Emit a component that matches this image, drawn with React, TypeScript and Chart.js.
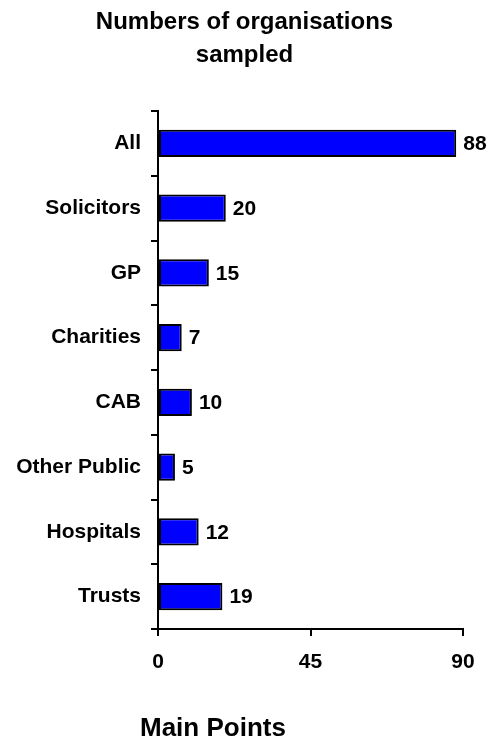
import React, { useEffect, useRef } from "react";
import { Chart, registerables } from "chart.js";

Chart.register(...registerables);

const categories = ["All", "Solicitors", "GP", "Charities", "CAB", "Other Public", "Hospitals", "Trusts"];
const values = [88, 20, 15, 7, 10, 5, 12, 19];
const xTicks = [0, 45, 90];
const titleLines = ["Numbers of organisations", "sampled"];
const footerText = "Main Points";

const FONT = "'Liberation Sans', Arial, sans-serif";

const valueLabels = {
  id: "valueLabels",
  afterDatasetsDraw(chart: any) {
    const ctx = chart.ctx;
    const meta = chart.getDatasetMeta(0);
    ctx.save();
    ctx.font = `bold 21px ${FONT}`;
    ctx.fillStyle = "#000";
    ctx.textAlign = "left";
    ctx.textBaseline = "middle";
    meta.data.forEach((el: any, i: number) => {
      ctx.fillText(String(chart.data.datasets[0].data[i]), el.x + 7, el.y + 1);
    });
    ctx.restore();
  },
};

export default function App() {
  const ref = useRef<HTMLCanvasElement | null>(null);
  useEffect(() => {
    document.body.style.margin = "0";
    if (!ref.current) return;
    const chart = new Chart(ref.current, {
      type: "bar",
      data: {
        labels: categories,
        datasets: [
          {
            data: values,
            backgroundColor: "#0000FF",
            borderColor: "#000",
            borderWidth: 2,
            borderSkipped: false,
            categoryPercentage: 1,
            barPercentage: 0.42,
          },
        ],
      },
      options: {
        indexAxis: "y",
        animation: false,
        responsive: false,
        maintainAspectRatio: false,
        layout: { padding: { left: 0, right: 26, top: 111, bottom: 61 } },
        plugins: {
          legend: { display: false },
          tooltip: { enabled: false },
          title: { display: false },
        },
        scales: {
          x: {
            type: "linear",
            min: 0,
            max: 90,
            afterBuildTicks: (scale: any) => {
              scale.ticks = xTicks.map((v) => ({ value: v }));
            },
            afterFit: (scale: any) => {
              scale.height = 50;
            },
            grid: { drawOnChartArea: false, drawTicks: true, tickLength: 7, color: "#000", lineWidth: 2 },
            border: { color: "#000", width: 2 },
            ticks: {
              color: "#000",
              padding: 14,
              font: { family: FONT, size: 21, weight: "bold" },
            },
          },
          y: {
            type: "category",
            afterFit: (scale: any) => {
              scale.width = 158;
            },
            grid: { drawOnChartArea: false, drawTicks: true, tickLength: 7, color: "#000", lineWidth: 2, offset: true },
            border: { color: "#000", width: 2 },
            ticks: {
              color: "#000",
              padding: 10,
              font: { family: FONT, size: 21, weight: "bold" },
            },
          },
        },
      },
      plugins: [valueLabels],
    });
    return () => chart.destroy();
  }, []);
  return (
    <div style={{ position: "relative", width: 489, height: 740 }}>
      <canvas ref={ref} width={489} height={740} style={{ display: "block" }} />
      <div
        style={{
          position: "absolute",
          left: 0,
          top: 4,
          width: 489,
          textAlign: "center",
          fontFamily: FONT,
          fontWeight: "bold",
          fontSize: 24,
          lineHeight: "33px",
          color: "#000",
        }}
      >
        {titleLines.map((t) => (
          <div key={t}>{t}</div>
        ))}
      </div>
      <div
        style={{
          position: "absolute",
          left: 140,
          top: 711,
          fontFamily: FONT,
          fontWeight: "bold",
          fontSize: 26,
          lineHeight: "32px",
          color: "#000",
          whiteSpace: "nowrap",
        }}
      >
        {footerText}
      </div>
    </div>
  );
}
